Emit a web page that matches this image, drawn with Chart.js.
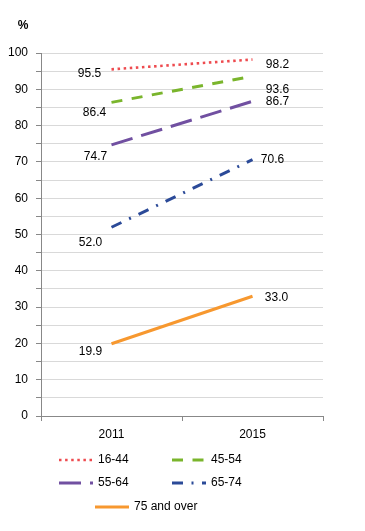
<!DOCTYPE html>
<html>
<head>
<meta charset="utf-8">
<script src="https://cdn.jsdelivr.net/npm/chart.js@4"></script>
<style>
  html, body { margin: 0; padding: 0; background: #fff; }
  #wrap { width: 365px; height: 531px; position: relative; }
</style>
</head>
<body>
<div id="wrap"><canvas id="chart"></canvas></div>
<script>
// ====== data ======
const years = ["2011", "2015"];
const seriesNames = ["16-44", "45-54", "55-64", "65-74", "75 and over"];
const age16_44 = [95.5, 98.2];
const age45_54 = [86.4, 93.6];
const age55_64 = [74.7, 86.7];
const age65_74 = [52.0, 70.6];
const age75plus = [19.9, 33.0];

// ====== styles ======
const colors = ["#ee4b4f", "#7ab52c", "#7150a1", "#2b4a98", "#f7982f"];
const dashes = [[2.5, 3.6], [11, 9.5], [22, 9], [11, 8.5, 2, 8.5], []];
// label offsets (dx, dy) from each point, [left, right]
const labelOffsets = [
  [[-22, 4], [25, 5]],
  [[-17, 10], [25, 13]],
  [[-16, 12], [25, 0]],
  [[-21, 15], [20, 0]],
  [[-21, 8], [24, 1]]
];

const FONT = "'Liberation Sans', Arial, sans-serif";

const datasets = [age16_44, age45_54, age55_64, age65_74, age75plus].map((d, i) => ({
  label: seriesNames[i],
  data: d,
  borderColor: colors[i],
  backgroundColor: colors[i],
  borderWidth: i === 0 ? 2.6 : 3,
  borderDash: dashes[i],
  pointRadius: 0,
  tension: 0,
  fill: false
}));

// data labels + "%" + legend
const extras = {
  id: "extras",
  afterDatasetsDraw(chart) {
    const ctx = chart.ctx;
    ctx.save();
    ctx.font = "12px " + FONT;
    ctx.fillStyle = "#000";
    ctx.textAlign = "center";
    ctx.textBaseline = "middle";
    chart.data.datasets.forEach((ds, i) => {
      const meta = chart.getDatasetMeta(i);
      meta.data.forEach((pt, j) => {
        const [dx, dy] = labelOffsets[i][j];
        ctx.fillText(ds.data[j].toFixed(1), pt.x + dx, pt.y + dy);
      });
    });

    // axis unit
    const ca = chart.chartArea;
    ctx.font = "bold 12px " + FONT;
    ctx.fillText("%", ca.left - 18, ca.top - 27);

    // legend
    ctx.font = "12px " + FONT;
    ctx.textAlign = "left";
    const rowY = [ca.bottom + 44, ca.bottom + 67, ca.bottom + 91];
    const items = [
      [0, 59, rowY[0]], [1, 172, rowY[0]],
      [2, 59, rowY[1]], [3, 172, rowY[1]],
      [4, 95, rowY[2]]
    ];
    items.forEach(([i, x, y]) => {
      const ds = chart.data.datasets[i];
      ctx.save();
      ctx.strokeStyle = ds.borderColor;
      ctx.lineWidth = ds.borderWidth;
      ctx.setLineDash(ds.borderDash);
      ctx.beginPath();
      ctx.moveTo(x, y);
      ctx.lineTo(x + 34, y);
      ctx.stroke();
      ctx.restore();
      ctx.fillText(ds.label, x + 39, y);
    });
    ctx.restore();
  }
};

new Chart(document.getElementById("chart"), {
  type: "line",
  data: { labels: years, datasets },
  options: {
    responsive: true,
    maintainAspectRatio: false,
    animation: false,
    layout: { padding: { left: 0, top: 53, right: 42, bottom: 0 } },
    plugins: { legend: { display: false }, tooltip: { enabled: false } },
    scales: {
      x: {
        type: "category",
        offset: true,
        grid: { offset: true, drawOnChartArea: false, tickLength: 5, tickColor: "#888", tickWidth: 1 },
        border: { color: "#888", width: 1 },
        ticks: { color: "#000", font: { family: FONT, size: 12 }, padding: 6 },
        afterFit: (s) => { s.height = 115; }
      },
      y: {
        min: 0, max: 100,
        grid: { color: "#d9d9d9", tickColor: "#888", tickLength: 5, lineWidth: 1 },
        border: { color: "#888", width: 1 },
        ticks: {
          stepSize: 5, autoSkip: false, color: "#000", padding: 8,
          font: { family: FONT, size: 12 },
          callback: (v) => (v % 10 === 0 ? v : "")
        },
        afterFit: (s) => { s.width = 41; }
      }
    }
  },
  plugins: [extras]
});
</script>
</body>
</html>
